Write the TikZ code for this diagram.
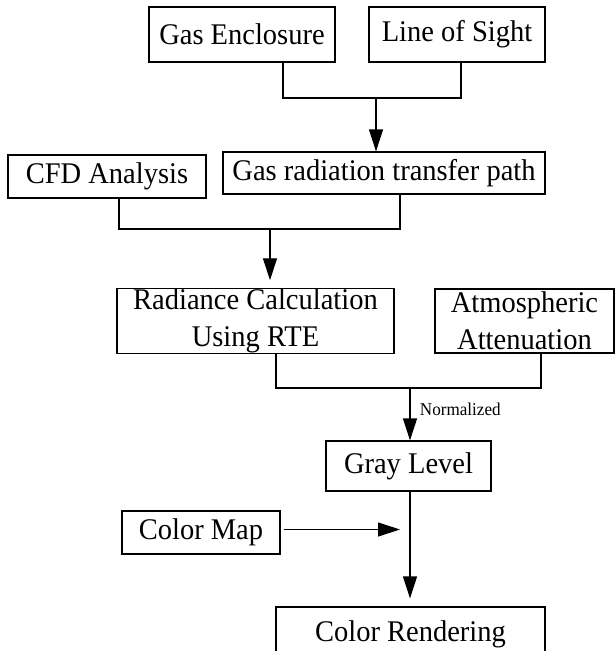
\documentclass[tikz,border=0pt]{standalone}
\usepackage{fontspec}
\setmainfont[FakeStretch=0.95]{Liberation Serif}
\usetikzlibrary{arrows.meta}

\begin{document}
\begin{tikzpicture}[x=1pt,y=-1pt]

\tikzset{block/.style = {shape=rectangle,draw,line width=1.2pt,inner sep=0pt,align=center,font=\fontsize{30}{37}\selectfont}}
\tikzset{edge/.style = {-{Triangle[length=22pt,width=14pt]},line width=1.2pt}}
\tikzset{link/.style = {line width=1.2pt}}
\useasboundingbox (0,0) rectangle (616,651);
%blocks
\node[block, minimum width=186pt, minimum height=55pt] (enc) at (242,34.5) {Gas Enclosure};
\node[block, minimum width=176pt, minimum height=55pt] (los) at (457,34.5) {Line of Sight};
\node[block, minimum width=322pt, minimum height=42pt] (path) at (384,173) {Gas radiation transfer path};
\node[block, minimum width=198pt, minimum height=43pt] (cfd) at (107,176.5) {CFD Analysis};
\node[block, minimum width=277pt, minimum height=64pt] (rte) at (255.5,321) {Radiance Calculation\\Using RTE};
\node[block, minimum width=179pt, minimum height=64pt] (atm) at (524.5,321) {Atmospheric\\Attenuation};
\node[block, minimum width=165pt, minimum height=50pt] (gray) at (408.5,466) {Gray Level};
\node[block, minimum width=158pt, minimum height=43pt] (cmap) at (201,532.5) {Color Map};
\node[block, minimum width=269pt, minimum height=54pt] (render) at (410.5,634) {Color Rendering};
%junctions
\coordinate (j1a) at (283,98);
\coordinate (j1b) at (461,98);
\coordinate (j1m) at (376,98);
\coordinate (j2a) at (119,229);
\coordinate (j2b) at (400,229);
\coordinate (j2m) at (270,229);
\coordinate (j3a) at (276,388);
\coordinate (j3b) at (541,388);
\coordinate (j3m) at (410,388);
%edges
\draw [link] (enc.south -| j1a) -- (j1a) -- (j1b) -- (los.south -| j1b);
\draw [edge] (j1m) -- (path.north -| j1m);
\draw [link] (cfd.south -| j2a) -- (j2a) -- (j2b) -- (path.south -| j2b);
\draw [edge, shorten >=8pt] (j2m) -- (rte.north -| j2m);
\draw [link] (rte.south -| j3a) -- (j3a) -- (j3b) -- (atm.south -| j3b);
\draw [edge] (j3m) -- (gray.north -| j3m) node [pos=0.4, right=6pt, font=\fontsize{18}{20}\selectfont] {Normalized};
\draw [edge, shorten >=8pt] (gray.south -| j3m) -- (render.north -| j3m);
\draw [edge, shorten <=3pt, shorten >=10pt] ([yshift=3pt]cmap.east) -- ([yshift=3pt]cmap.east -| j3m);

\end{tikzpicture}
\end{document}
